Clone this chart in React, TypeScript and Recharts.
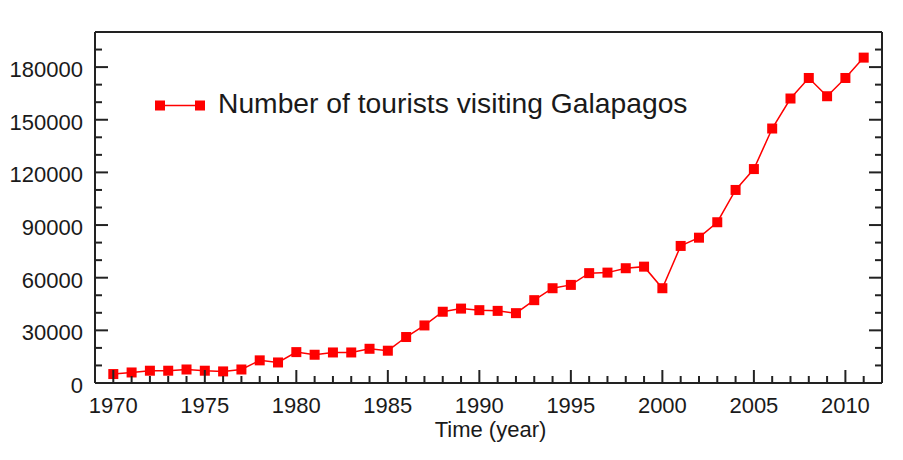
import React from 'react';
import { LineChart, Line, XAxis, YAxis, ReferenceLine, Legend } from 'recharts';

const years = [
  1970, 1971, 1972, 1973, 1974, 1975, 1976, 1977, 1978, 1979,
  1980, 1981, 1982, 1983, 1984, 1985, 1986, 1987, 1988, 1989,
  1990, 1991, 1992, 1993, 1994, 1995, 1996, 1997, 1998, 1999,
  2000, 2001, 2002, 2003, 2004, 2005, 2006, 2007, 2008, 2009,
  2010, 2011,
];
const tourists = [
  5100, 6000, 7000, 7000, 7700, 7000, 6600, 7700, 12900, 11700,
  17600, 16100, 17400, 17400, 19500, 18400, 26200, 32800, 40600, 42400,
  41500, 41100, 39800, 47200, 54000, 55900, 62600, 62900, 65400, 66300,
  54000, 78100, 82800, 91600, 110000, 121900, 145000, 162100, 173800, 163400,
  173800, 185400,
];
const xMajorTicks = [1970, 1975, 1980, 1985, 1990, 1995, 2000, 2005, 2010];
const yMajorTicks = [0, 30000, 60000, 90000, 120000, 150000, 180000];
const seriesName = 'Number of tourists visiting Galapagos';
const xTitle = 'Time (year)';

const data = years.map((year, i) => ({ year, tourists: tourists[i] }));

const xTicks: number[] = [];
for (let y = 1970; y <= 2011; y++) xTicks.push(y);
const yTicks: number[] = [];
for (let v = 0; v <= 190000; v += 10000) yTicks.push(v);

const FONT = '"Liberation Sans", Arial, Helvetica, sans-serif';
const AXIS = '#222222';
const TEXT = '#1a1a1a';
const RED = '#ff0000';

function BottomTick(props: any) {
  const { x, y, payload } = props;
  const major = xMajorTicks.includes(payload.value);
  return (
    <g>
      <line x1={x} x2={x} y1={y} y2={y - (major ? 13 : 7)} stroke={AXIS} strokeWidth={2} />
      {major && (
        <text x={x} y={y + 29.5} textAnchor="middle" fontSize={22} fontFamily={FONT} fill={TEXT}>
          {payload.value}
        </text>
      )}
    </g>
  );
}

function LeftTick(props: any) {
  const { x, y, payload } = props;
  const major = yMajorTicks.includes(payload.value);
  return (
    <g>
      <line x1={x} x2={x + (major ? 13 : 7)} y1={y} y2={y} stroke={AXIS} strokeWidth={2} />
      {major && (
        <text x={x - 12} y={y + 10} textAnchor="end" fontSize={22} fontFamily={FONT} fill={TEXT}>
          {payload.value}
        </text>
      )}
    </g>
  );
}

function RightTick(props: any) {
  const { x, y, payload } = props;
  const major = yMajorTicks.includes(payload.value);
  return (
    <g>
      <line x1={x} x2={x - (major ? 13 : 7)} y1={y} y2={y} stroke={AXIS} strokeWidth={2} />
    </g>
  );
}

const LegendContent = () => (
  <svg width={580} height={40} style={{ display: 'block' }}>
    <line x1={12} x2={52} y1={17.5} y2={17.5} stroke={RED} strokeWidth={1.5} />
    <rect x={7} y={12.5} width={10} height={10} fill={RED} />
    <rect x={47} y={12.5} width={10} height={10} fill={RED} />
    <text x={70} y={24.7} fontSize={28.25} fontFamily={FONT} fill={TEXT}>
      {seriesName}
    </text>
  </svg>
);

const TitleLabel = (props: any) => {
  const vb = props.viewBox || { x: 87, y: 375, width: 787, height: 60 };
  return (
    <text
      x={vb.x + vb.width / 2 + 2}
      y={vb.y + 53.7}
      textAnchor="middle"
      fontSize={22}
      fontFamily={FONT}
      fill={TEXT}
    >
      {xTitle}
    </text>
  );
};

export default function App() {
  return (
    <LineChart
      width={887}
      height={444}
      data={data}
      margin={{ top: 24, right: 12, bottom: 9, left: 7 }}
      style={{ background: '#ffffff' }}
    >
      <XAxis
        dataKey="year"
        type="number"
        domain={[1969, 2012]}
        ticks={xTicks}
        interval={0}
        tickSize={0}
        tickMargin={0}
        tickLine={false}
        height={60}
        axisLine={{ stroke: AXIS, strokeWidth: 2 }}
        tick={<BottomTick />}
        label={{ content: <TitleLabel /> }}
      />
      <YAxis
        yAxisId="l"
        type="number"
        domain={[0, 200000]}
        ticks={yTicks}
        interval={0}
        tickSize={0}
        tickMargin={0}
        tickLine={false}
        width={80}
        axisLine={{ stroke: AXIS, strokeWidth: 2 }}
        tick={<LeftTick />}
        allowDataOverflow
      />
      <YAxis
        yAxisId="r"
        orientation="right"
        type="number"
        domain={[0, 200000]}
        ticks={yTicks}
        interval={0}
        tickSize={0}
        tickMargin={0}
        tickLine={false}
        width={1}
        axisLine={{ stroke: AXIS, strokeWidth: 2 }}
        tick={<RightTick />}
        allowDataOverflow
      />
      <ReferenceLine yAxisId="l" y={200000} stroke={AXIS} strokeWidth={2} ifOverflow="visible" />
      <Legend
        content={LegendContent}
        layout="horizontal"
        align="center"
        verticalAlign="middle"
        wrapperStyle={{ top: 80, left: 140, width: 580, height: 40 }}
      />
      <Line
        yAxisId="l"
        type="linear"
        dataKey="tourists"
        name={seriesName}
        stroke={RED}
        strokeWidth={1.5}
        isAnimationActive={false}
        dot={(p: any) => (
          <rect key={`dot-${p.index}`} x={p.cx - 5} y={p.cy - 5} width={10} height={10} fill={RED} />
        )}
        activeDot={false}
      />
    </LineChart>
  );
}
